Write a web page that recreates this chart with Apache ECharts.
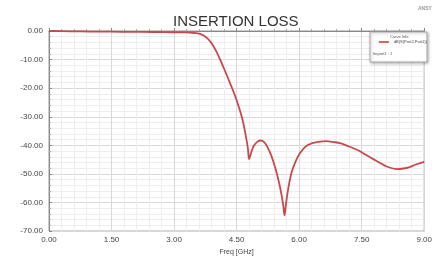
<!DOCTYPE html>
<html><head><meta charset="utf-8">
<script src="https://cdn.jsdelivr.net/npm/echarts@6/dist/echarts.min.js"></script>
<style>html,body{margin:0;padding:0;background:#fff}#c{width:435px;height:261px}</style>
</head><body><div id="c"></div>
<script>
const freq = [0,0.5,1.0,1.5,2.0,2.5,3.0,3.3,3.5,3.6,3.7,3.8,3.9,4.0,4.1,4.2,4.3,4.4,4.5,4.6,4.66,4.72,4.77,4.8,4.83,4.87,4.92,5.0,5.08,5.16,5.24,5.33,5.43,5.52,5.58,5.62,5.65,5.68,5.72,5.77,5.82,5.88,5.94,6.0,6.14,6.3,6.5,6.65,6.8,7.0,7.2,7.45,7.6,7.8,7.92,8.1,8.35,8.5,8.63,8.8,9.0];
const s21  = [0,-0.1,-0.2,-0.25,-0.3,-0.35,-0.45,-0.5,-0.7,-0.9,-1.5,-2.6,-4.3,-6.8,-9.8,-13.2,-16.7,-20.3,-24.2,-28.8,-32.2,-36.6,-41.0,-44.8,-43.5,-41.6,-40.0,-38.7,-38.3,-38.9,-40.6,-43.5,-48.0,-53.2,-57.5,-61.2,-64.5,-61.0,-56.8,-52.6,-49.4,-46.9,-44.8,-43.2,-40.6,-39.3,-38.7,-38.5,-38.8,-39.3,-40.4,-42.0,-43.3,-45.0,-46.0,-47.4,-48.3,-48.1,-47.7,-46.7,-45.8];
const xTicks = [0,1.5,3,4.5,6,7.5,9];
const yTicks = [0,-10,-20,-30,-40,-50,-60,-70];
const seriesName = 'dB(S(Port2,Port1))';

const chart = echarts.init(document.getElementById('c'), null, {renderer:'canvas'});
const data = freq.map((f,i)=>[f,s21[i]]);
chart.setOption({
  animation:false,
  textStyle:{fontFamily:'Liberation Sans, Arial, sans-serif'},
  title:{text:'INSERTION LOSS', left:168, top:9,
    textStyle:{fontSize:15, fontWeight:'normal', color:'#333', fontFamily:'Liberation Sans, Arial, sans-serif'}},
  grid:{left:49, right:4, top:31, bottom:26, show:true, borderColor:'#999', borderWidth:1},
  xAxis:{type:'value', min:xTicks[0], max:xTicks[xTicks.length-1], interval:1.5,
    name:'Freq [GHz]', nameLocation:'middle', nameGap:13,
    nameTextStyle:{fontSize:7, color:'#444'},
    axisLine:{show:true, lineStyle:{color:'#888'}},
    axisTick:{show:true, inside:true, length:3, lineStyle:{color:'#888'}},
    minorTick:{show:true, splitNumber:5, length:2, lineStyle:{color:'#aaa'}},
    axisLabel:{fontSize:8, color:'#444', margin:5, formatter:v=>v.toFixed(2)},
    splitLine:{show:true, lineStyle:{color:'#d8d8d8', width:1}},
    minorSplitLine:{show:true, lineStyle:{color:'#eeeeee', width:1}}},
  yAxis:{type:'value', min:yTicks[yTicks.length-1], max:yTicks[0], interval:10,
    axisLine:{show:true, lineStyle:{color:'#888'}},
    axisTick:{show:true, inside:true, length:3, lineStyle:{color:'#888'}},
    minorTick:{show:true, splitNumber:5, length:2, lineStyle:{color:'#aaa'}},
    axisLabel:{fontSize:8, color:'#444', margin:6, formatter:v=>v.toFixed(2)},
    splitLine:{show:true, lineStyle:{color:'#d8d8d8', width:1}},
    minorSplitLine:{show:true, lineStyle:{color:'#eeeeee', width:1}}},
  legend:{data:[seriesName], right:8, top:40, itemWidth:10, itemHeight:2, itemGap:2,
    icon:'rect', padding:0, textStyle:{fontSize:4, color:'#444'}, z:20},
  graphic:[
    {type:'rect', shape:{x:370, y:32, width:57, height:30}, z:10,
      style:{fill:'#fff', stroke:'#aaa', lineWidth:1, shadowBlur:3, shadowColor:'rgba(0,0,0,0.3)', shadowOffsetX:1, shadowOffsetY:1}},
    {type:'text', left:390, top:35, z:11, style:{text:'Curve Info', fontSize:4, fill:'#555'}},
    {type:'text', left:373, top:52, z:11, style:{text:'Import1 : 1', fontSize:4, fill:'#555'}},
    {type:'text', left:418, top:6, style:{text:'ANSY', fontSize:5, fontWeight:'bold', fill:'#999'}}
  ],
  series:[{name:seriesName, type:'line', data:data, showSymbol:false, smooth:0.35,
    lineStyle:{color:'#c9484c', width:1.8}, itemStyle:{color:'#e06060'}}]
});
</script></body></html>
